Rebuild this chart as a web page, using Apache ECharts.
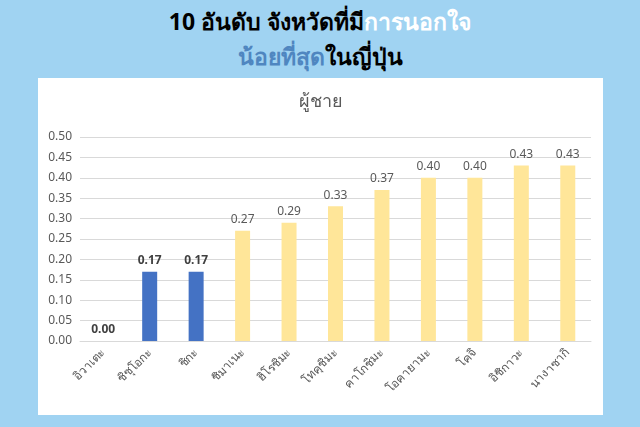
<!DOCTYPE html><html><head><meta charset="utf-8">
<script src="https://cdn.jsdelivr.net/npm/echarts@6/dist/echarts.min.js"></script>
<style>html,body{margin:0;padding:0;background:#a0d3f2;}
#t{position:absolute;left:0;top:4px;width:640px;text-align:center;font-family:"Noto Sans",sans-serif;font-weight:bold;font-size:23px;line-height:35px;color:#000;}
#panel{position:absolute;left:38px;top:78px;width:565px;height:337px;background:#fff;}
#c{width:565px;height:337px;}</style></head><body>
<div id="t">10 อันดับ จังหวัดที่มี<span style="color:#fff">การนอกใจ</span><br><span style="color:#4f86c0">น้อยที่สุด</span>ในญี่ปุ่น</div>
<div id="panel"><div id="c"></div></div>
<script>
const categories=["อิวาเตะ","ชิซุโอกะ","ชิกะ","ชิมาเนะ","ฮิโรชิมะ","โทคุชิมะ","คาโกชิมะ","โอคายามะ","โคจิ","อิชิกาวะ","นางาซากิ"];
const values=[0.00,0.17,0.17,0.27,0.29,0.33,0.37,0.40,0.40,0.43,0.43];
const highlighted=[true,true,true,false,false,false,false,false,false,false,false];
const chart=echarts.init(document.getElementById('c'));
chart.setOption({
 title:{text:"ผู้ชาย",left:'center',top:10,textStyle:{fontFamily:'Noto Sans',fontWeight:'normal',fontSize:18,color:'#595959'}},
 grid:{left:42,right:12,top:59,bottom:74},
 xAxis:{type:'category',data:categories,axisTick:{show:false},axisLine:{lineStyle:{color:'#d9d9d9'}},
  axisLabel:{rotate:45,interval:0,color:'#595959',fontSize:12,margin:10,fontFamily:'Noto Sans'}},
 yAxis:{type:'value',min:0,max:0.5,interval:0.05,axisLabel:{formatter:v=>v.toFixed(2),color:'#595959',fontSize:12,fontFamily:'Noto Sans'},
  splitLine:{lineStyle:{color:'#d9d9d9'}}},
 series:[{type:'bar',barWidth:15,
  data:values.map((v,i)=>({value:v,itemStyle:{color:highlighted[i]?'#4472c4':'#ffe699'},
   label:{fontWeight:highlighted[i]?'bold':'normal',color:highlighted[i]?'#404040':'#595959',fontSize:12}})),
  label:{show:true,position:'top',formatter:p=>p.value.toFixed(2),fontFamily:'Noto Sans'}}]
});
</script></body></html>
